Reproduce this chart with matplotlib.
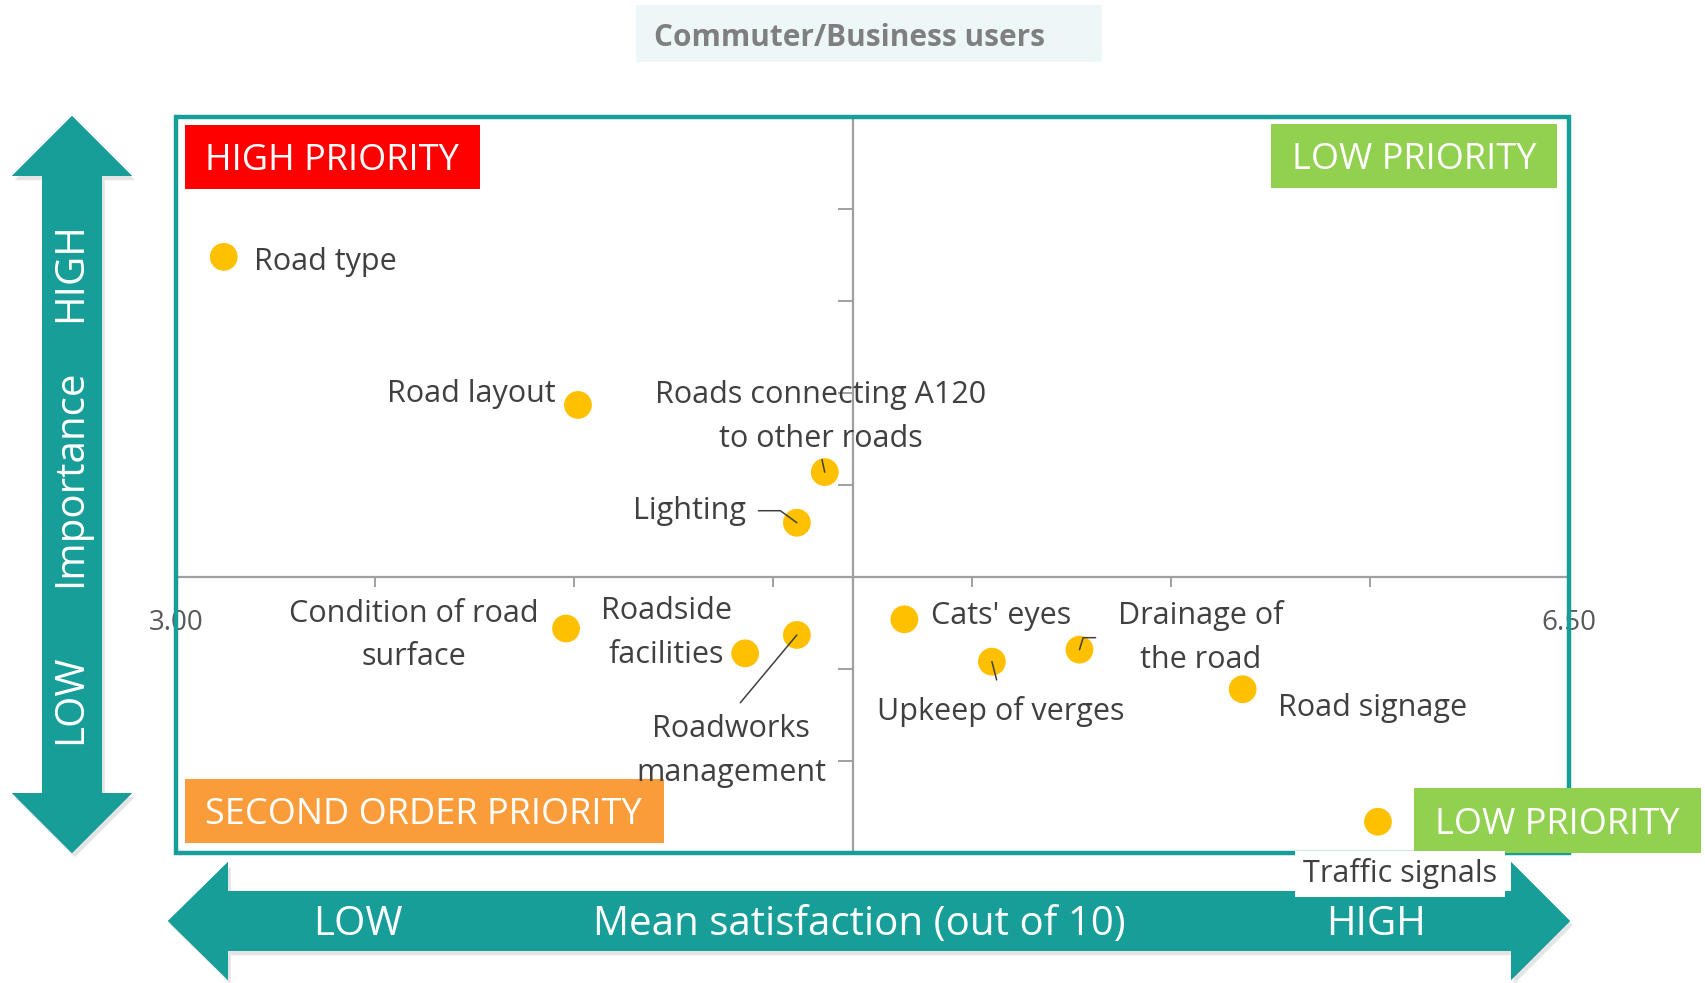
import matplotlib
matplotlib.use("Agg")
import matplotlib.pyplot as plt
import matplotlib.patheffects as pe
from matplotlib.patches import Polygon, Rectangle

# --- data ---
items = [
    "Road type",
    "Road layout",
    "Roads connecting A120\nto other roads",
    "Lighting",
    "Condition of road\nsurface",
    "Roadside\nfacilities",
    "Roadworks\nmanagement",
    "Cats' eyes",
    "Upkeep of verges",
    "Drainage of\nthe road",
    "Road signage",
    "Traffic signals",
]
satisfaction = [3.12, 4.01, 4.63, 4.56, 3.98, 4.43, 4.56, 4.83, 5.05, 5.27, 5.68, 6.02]
importance = [6.48, 4.87, 4.14, 3.59, 2.44, 2.17, 2.37, 2.54, 2.08, 2.21, 1.78, 0.34]

x_ticks = [3.0, 3.5, 4.0, 4.5, 5.0, 5.5, 6.0, 6.5]
x_ticklabels = ["3.00", "", "", "", "", "", "", "6.50"]
y_ticks = [0, 1, 2, 3, 4, 5, 6, 7, 8]
x_cross = 4.70  # mean satisfaction, where the importance axis crosses
y_cross = 3

title = "Commuter/Business users"
quadrants = ["HIGH PRIORITY", "LOW PRIORITY", "SECOND ORDER PRIORITY", "LOW PRIORITY"]

# --- styling ---
W, H = 1705, 983
TEAL = "#189E98"
DOT = "#FFC000"
LABEL = "#404040"
FONT = "Open Sans"
plt.rcParams["font.family"] = [FONT, "DejaVu Sans"]


def fx(x):
    return x / W


def fy(y):
    return 1 - y / H


def pts(seq):
    return [(fx(x), fy(y)) for x, y in seq]


fig = plt.figure(figsize=(W / 100, H / 100), dpi=100)
fig.patch.set_facecolor("white")

# big double arrows (figure pixels, y down)
shadow = [pe.withSimplePatchShadow(offset=(2, -3), shadow_rgbFace="#888888", alpha=0.22), pe.Normal()]
v_arrow = [(72, 116), (132, 176), (102, 176), (102, 793), (132, 793), (72, 853),
           (12, 793), (42, 793), (42, 176), (12, 176)]
h_arrow = [(168, 921), (228, 862), (228, 891), (1511, 891), (1511, 862), (1570, 921),
           (1511, 980), (1511, 951), (228, 951), (228, 980)]
for shape in (v_arrow, h_arrow):
    p = Polygon(pts(shape), closed=True, facecolor=TEAL, edgecolor="none",
                transform=fig.transFigure, zorder=-1, path_effects=shadow)
    fig.add_artist(p)

arrow_fs = 29
for txt, y in (("HIGH", 272), ("Importance", 478), ("LOW", 699)):
    fig.text(fx(71), fy(y), txt, rotation=90, ha="center", va="center",
             color="white", fontsize=arrow_fs)
for txt, x in (("LOW", 358), ("Mean satisfaction (out of 10)", 859), ("HIGH", 1376)):
    fig.text(fx(x), fy(925), txt, ha="center", va="center", color="white", fontsize=arrow_fs)

# title box
fig.add_artist(Rectangle((fx(636), fy(62)), (1102 - 636) / W, (62 - 5) / H,
                         transform=fig.transFigure, facecolor="#EDF7F8", edgecolor="none"))
fig.text(fx(849), fy(38), title, ha="center", va="center", color="#7F7F7F",
         fontsize=21.4, fontweight="bold")

# main plot
left, right, top, bottom = 176, 1569, 117, 853
ax = fig.add_axes([fx(left), fy(bottom), (right - left) / W, (bottom - top) / H])
ax.patch.set_visible(False)
ax.set_xlim(x_ticks[0], x_ticks[-1])
ax.set_ylim(y_ticks[0], y_ticks[-1])

for side in ("top", "right"):
    ax.spines[side].set_visible(False)
ax.spines["left"].set_position(("data", x_cross))
ax.spines["bottom"].set_position(("data", y_cross))
for side in ("left", "bottom"):
    ax.spines[side].set_color("#A0A0A0")
    ax.spines[side].set_linewidth(1.6)

ax.set_xticks(x_ticks)
ax.set_xticklabels(x_ticklabels)
ax.set_yticks(y_ticks)
ax.set_yticklabels([])
ax.tick_params(axis="x", direction="out", length=7, width=1.4, color="#A0A0A0",
               labelsize=20, labelcolor="#595959", pad=16)
ax.tick_params(axis="y", direction="out", length=11, width=1.4, color="#A0A0A0")

# teal frame round the plot area
ax.add_patch(Rectangle((0, 0), 1, 1, transform=ax.transAxes, fill=False,
                       edgecolor=TEAL, linewidth=3.2, clip_on=False, zorder=2.6))

# quadrant boxes (figure pixels: x0, y0, x1, y1)
quad_boxes = [(185, 125, 480, 189), (1271, 124, 1557, 188),
              (185, 779, 664, 843), (1414, 788, 1701, 853)]
quad_colors = ["#FF0000", "#92D050", "#FA9C3A", "#92D050"]
quad_align = ["left", "center", "left", "center"]
for (x0, y0, x1, y1), c, name, al in zip(quad_boxes, quad_colors, quadrants, quad_align):
    ax.add_patch(Rectangle((fx(x0), fy(y1)), (x1 - x0) / W, (y1 - y0) / H,
                           transform=fig.transFigure, facecolor=c, edgecolor="none",
                           clip_on=False, zorder=3))
    tx = x0 + 20 if al == "left" else (x0 + x1) / 2
    ax.text(fx(tx), fy((y0 + y1) / 2 + 4), name, transform=fig.transFigure,
            ha=al, va="center", color="white", fontsize=26, zorder=4, clip_on=False)

ax.scatter(satisfaction, importance, s=400, color=DOT, edgecolors="none", zorder=5, clip_on=False)

# label placement: offset in pixels from the dot, alignment, leader line
placement = [
    ((30, -5), "left", None),
    ((-22, 11), "right", None),
    ((-4, 55), "center", dict(relpos=(0.5, 0), shrinkA=2)),
    ((-51, 12), "right", dict(relpos=(1, 0.5), shrinkA=7,
                              connectionstyle="angle,angleA=0,angleB=-36,rad=0")),
    ((-152, -7), "center", None),
    ((-79, 20), "center", None),
    ((-66, -116), "center", dict(relpos=(0.5, 1), shrinkA=8)),
    ((27, 3), "left", None),
    ((9, -50), "center", dict(relpos=(0.5, 1), shrinkA=10)),
    ((121, 12), "center", dict(relpos=(0, 0.5), shrinkA=14,
                               connectionstyle="angle,angleA=180,angleB=73,rad=0")),
    ((35, -19), "left", None),
    ((22, -52), "center", None),
]
for name, x, y, (off, ha, leader) in zip(items, satisfaction, importance, placement):
    kw = dict(xy=(x, y), xytext=off, textcoords="offset pixels", ha=ha, va="center",
              fontsize=22, color=LABEL, linespacing=1.6, zorder=6, annotation_clip=False)
    if leader is not None:
        props = dict(arrowstyle="-", color=LABEL, lw=1.1, shrinkB=0)
        props.update(leader)
        kw["arrowprops"] = props
    if name == "Traffic signals":
        kw["bbox"] = dict(boxstyle="square,pad=0.25", facecolor="white", edgecolor="none")
    ax.annotate(name, **kw)

fig.savefig("out.png", dpi=100)
